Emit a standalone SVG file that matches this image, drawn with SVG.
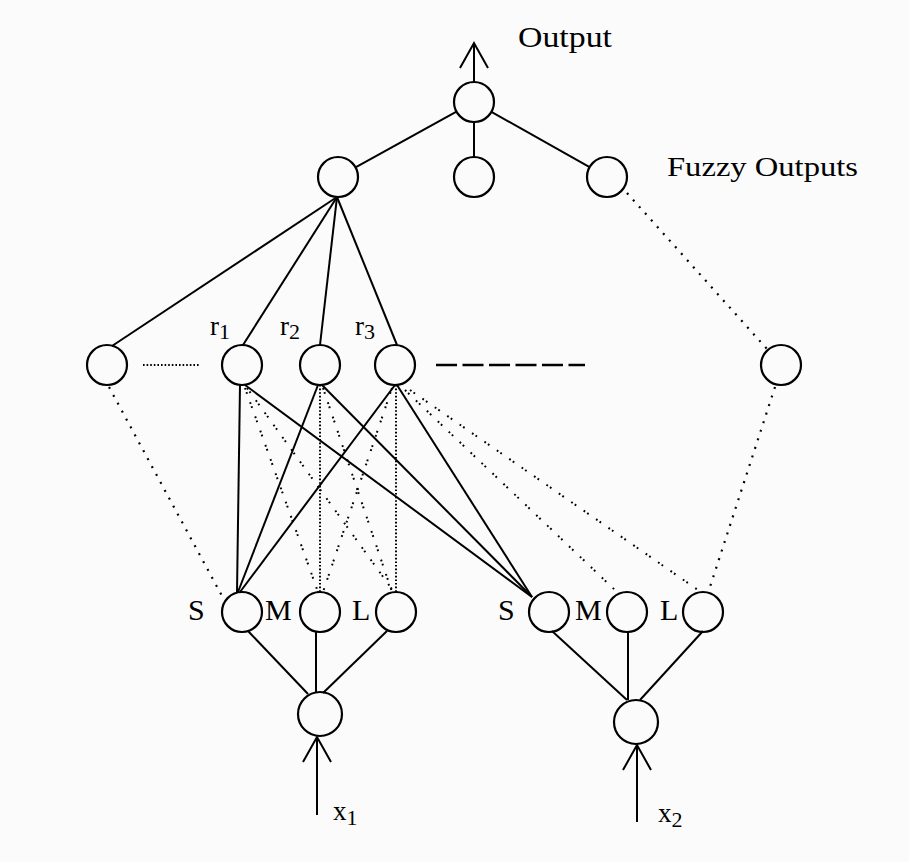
<svg xmlns="http://www.w3.org/2000/svg" width="909" height="862" viewBox="0 0 909 862">
<defs>
<style>
.n{fill:none;stroke:#000;stroke-width:2.2}
.e{fill:none;stroke:#000;stroke-width:2}
.d{fill:none;stroke:#000;stroke-width:2.2;stroke-dasharray:2 7}
.dd{fill:none;stroke:#000;stroke-width:2;stroke-dasharray:1.6 2}
.dp{fill:none;stroke:#000;stroke-width:2;stroke-dasharray:1.8 2.5 1.8 9}
.dash{fill:none;stroke:#000;stroke-width:2.5;stroke-dasharray:21 5.5}
.t{font-family:"Liberation Serif","Times New Roman",serif;fill:#000}
</style>
<marker id="ah" markerUnits="userSpaceOnUse" markerWidth="40" markerHeight="40" viewBox="-30 -20 40 40" refX="0" refY="0" orient="auto">
<path d="M-25,-14 L0,0 L-25,14" fill="none" stroke="#000" stroke-width="2"/>
</marker>
</defs>
<rect width="909" height="862" fill="#fbfbfb"/>
<g id="connectors">
<line class="e" x1="474" y1="82" x2="474" y2="43" marker-end="url(#ah)"/>
<line class="e" x1="456.5" y1="111.7" x2="355.5" y2="167.3"/>
<line class="e" x1="474" y1="122" x2="474" y2="157"/>
<line class="e" x1="491.4" y1="111.8" x2="589.6" y2="167.2"/>
<line class="e" x1="337" y1="197" x2="112" y2="346"/>
<line class="e" x1="337" y1="197" x2="243" y2="345"/>
<line class="e" x1="337" y1="197" x2="320" y2="345"/>
<line class="e" x1="337" y1="197" x2="397" y2="345"/>
<line class="d" x1="627" y1="193" x2="767" y2="349"/>
<line class="dd" x1="143" y1="365" x2="200" y2="365"/>
<line class="dash" x1="436" y1="365" x2="585" y2="365"/>
<line class="d" x1="109" y1="387" x2="222" y2="596"/>
<line class="d" x1="775" y1="387" x2="709" y2="590"/>
<line class="e" x1="240" y1="385" x2="237" y2="592"/>
<line class="e" x1="318" y1="385" x2="238" y2="592"/>
<line class="e" x1="395" y1="385" x2="240" y2="592"/>
<line class="e" x1="245" y1="385" x2="532" y2="597"/>
<line class="e" x1="322" y1="385" x2="532" y2="597"/>
<line class="e" x1="397" y1="385" x2="532" y2="597"/>
<line class="dp" x1="245" y1="388" x2="318" y2="592"/>
<line class="dp" x1="247" y1="388" x2="394" y2="592"/>
<line class="dd" x1="320" y1="385" x2="320" y2="592"/>
<line class="dp" x1="323" y1="388" x2="392" y2="592"/>
<line class="dd" x1="396" y1="385" x2="396" y2="592"/>
<line class="dp" x1="392" y1="388" x2="323" y2="592"/>
<line class="dp" x1="405" y1="390" x2="615" y2="590"/>
<line class="dp" x1="410" y1="390" x2="698" y2="590"/>
<line class="e" x1="248" y1="631" x2="308" y2="694"/>
<line class="e" x1="316" y1="632" x2="316" y2="692"/>
<line class="e" x1="387" y1="631" x2="323" y2="693"/>
<line class="e" x1="317" y1="815" x2="317" y2="737" marker-end="url(#ah)"/>
<line class="e" x1="552" y1="631" x2="627" y2="700"/>
<line class="e" x1="628" y1="632" x2="628" y2="700"/>
<line class="e" x1="703" y1="631" x2="640" y2="700"/>
<line class="e" x1="637" y1="822" x2="637" y2="745" marker-end="url(#ah)"/>
</g>
<g id="output"><circle class="n" cx="474" cy="102" r="20"/><text class="t" x="518" y="47" font-size="30" textLength="94" lengthAdjust="spacingAndGlyphs">Output</text></g>
<g id="fuzzy1"><circle class="n" cx="338" cy="177" r="20"/></g>
<g id="fuzzy2"><circle class="n" cx="474" cy="177" r="20"/></g>
<g id="fuzzy3"><circle class="n" cx="607" cy="177" r="20"/><text class="t" x="667" y="176" font-size="28" textLength="191" lengthAdjust="spacingAndGlyphs">Fuzzy Outputs</text></g>
<g id="rule0"><circle class="n" cx="107" cy="365" r="20"/></g>
<g id="rule1"><circle class="n" cx="242" cy="365" r="20"/><text class="t" x="210" y="335" font-size="27">r<tspan font-size="22" dy="4">1</tspan></text></g>
<g id="rule2"><circle class="n" cx="320" cy="365" r="20"/><text class="t" x="280" y="335" font-size="27">r<tspan font-size="22" dy="4">2</tspan></text></g>
<g id="rule3"><circle class="n" cx="395" cy="365" r="20"/><text class="t" x="355" y="335" font-size="27">r<tspan font-size="22" dy="4">3</tspan></text></g>
<g id="ruleN"><circle class="n" cx="781" cy="365" r="20"/></g>
<g id="S1"><circle class="n" cx="242" cy="612" r="20"/><text class="t" x="188" y="620" font-size="30">S</text></g>
<g id="M1"><circle class="n" cx="320" cy="612" r="20"/><text class="t" x="265" y="620" font-size="30">M</text></g>
<g id="L1"><circle class="n" cx="396" cy="612" r="20"/><text class="t" x="352" y="620" font-size="30">L</text></g>
<g id="S2"><circle class="n" cx="549" cy="612" r="20"/><text class="t" x="498" y="620" font-size="30">S</text></g>
<g id="M2"><circle class="n" cx="627" cy="612" r="20"/><text class="t" x="575" y="620" font-size="30">M</text></g>
<g id="L2"><circle class="n" cx="703" cy="612" r="20"/><text class="t" x="660" y="620" font-size="30">L</text></g>
<g id="input1"><circle class="n" cx="320" cy="714" r="22"/><text class="t" x="333" y="820" font-size="27">x<tspan font-size="22" dy="5">1</tspan></text></g>
<g id="input2"><circle class="n" cx="636" cy="722" r="22"/><text class="t" x="658" y="822" font-size="27">x<tspan font-size="22" dy="5">2</tspan></text></g>
</svg>
